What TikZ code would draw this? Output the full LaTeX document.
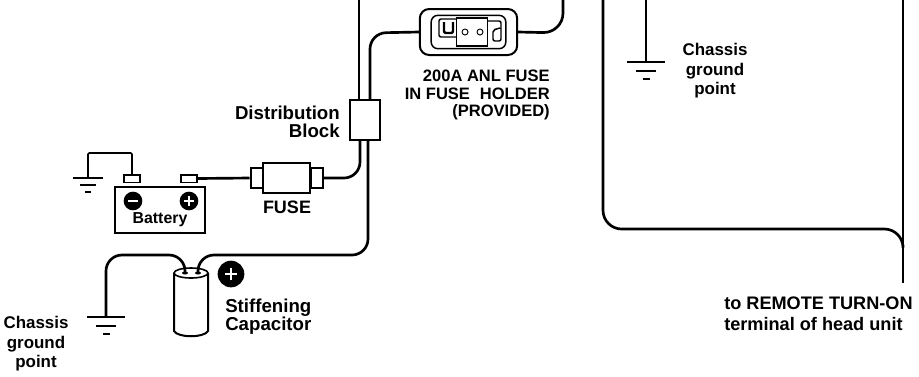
\documentclass[tikz,border=0pt]{standalone}
\usepackage{fontspec}
\usepackage{tikz}
\setmainfont{Liberation Sans}
\tikzset{
	wire/.style={line width=2pt},
	thinwire/.style={line width=1.2pt},
	part/.style={draw,line width=1.5pt,inner sep=0pt},
	pole/.style={circle,fill=black,inner sep=0pt,minimum size=14pt},
	lbl/.style 2 args={inner sep=0pt,font=\fontsize{#1}{#2}\selectfont\bfseries},
	pics/earth/.style={code={
		\draw [line width=1.5pt] (-19,0) -- (19,0);
		\draw [line width=1.5pt] (-10,9) -- (10,9);
		\draw [line width=1.5pt] (-3.5,17) -- (3.5,17);
	}}
}
\begin{document}
\begin{tikzpicture}[x=0.75pt,y=-0.75pt]
	\useasboundingbox (0,0) rectangle (919,376);
	% nodes for the parts
	\node (block) [part,minimum width=22.5pt,minimum height=30.5pt] at (365,120) {};
	\node (holder) [part,rounded corners=7pt,minimum width=73pt,minimum height=34.5pt] at (468.5,32) {};
	\node (frame) [part,line width=1.1pt,rounded corners=5pt,minimum width=56pt,minimum height=25pt] at (468.5,32) {};
	\node (blade) [part,line width=1.1pt,fill=white,minimum width=23pt,minimum height=21pt] at (472,32) {};
	\node (battery) [part,minimum width=67.5pt,minimum height=35pt] at (160,210) {};
	\node (neg) [part,line width=1pt,minimum width=12pt,minimum height=5.5pt] at (132,178.5) {};
	\node (pos) [part,line width=1pt,minimum width=12pt,minimum height=5.5pt] at (189,178.5) {};
	\node (capleft) [part,minimum width=9pt,minimum height=15pt] at (256.5,178) {};
	\node (capright) [part,minimum width=9pt,minimum height=15pt] at (316.5,178) {};
	\node (fuse) [part,fill=white,minimum width=35pt,minimum height=23pt] at (286.5,178) {};
	\node (minus) [pole] at (133,201) {};
	\node (plus) [pole] at (189,201) {};
	\node (capplus) [pole,minimum size=20pt] at (231,274) {};

	% labels
	\node (t1) [lbl={12.4}{12.8},align=right,anchor=east] at (550,95) {200A ANL FUSE\\IN FUSE\hspace{4pt} HOLDER\\(PROVIDED)};
	\node (t2) [lbl={14}{13.5},align=right,anchor=east] at (340,122) {Distribution\\Block};
	\node (t3) [lbl={11.9}{14}] at (160,220) {Battery};
	\node (t4) [lbl={13.5}{14}] at (287,207) {FUSE};
	\node (t5) [lbl={14}{13.5},align=left,anchor=west] at (225,317) {Stiffening\\Capacitor};
	\node (t6) [lbl={12.7}{14.6},align=center] at (36,344) {Chassis\\ground\\point};
	\node (t7) [lbl={12.7}{14.6},align=center] at (715,71) {Chassis\\ground\\point};
	\node (t8) [lbl={13.6}{15.5},align=left,anchor=west] at (724,314) {to REMOTE TURN-ON\\terminal of head unit};

	% free ends of the wires
	\coordinate (feed) at (359,0);
	\coordinate (blocka) at (359,100);
	\coordinate (blockb) at (370,100);
	\coordinate (blockc) at (360,140);
	\coordinate (blockd) at (368,140);
	\coordinate (amp) at (563,0);
	\coordinate (remotea) at (603,0);
	\coordinate (remoteb) at (903,0);
	\coordinate (remotec) at (903,283);
	\coordinate (remoted) at (903,245);
	\coordinate (gnda) at (646,0);
	\coordinate (gndb) at (646,62);
	\coordinate (gndc) at (88,178);
	\coordinate (gndd) at (106,317);
	\coordinate (capa) at (185,273);
	\coordinate (capb) at (198,273);

	% the grounds
	\pic at (646,62) {earth};
	\pic [scale=.8] at (88,178) {earth};
	\pic at (106,317) {earth};

	% the wires
	\draw [wire] (feed) -- (blocka);
	\draw [wire,rounded corners=12pt] (blockb) -- (370,33) -- (holder.west);
	\draw [wire,rounded corners=15pt] (holder.east) -- (563,33) -- (amp);
	\draw [wire,rounded corners=12pt] (blockc) -- (360,178) -- (capright.east);
	\draw [wire,rounded corners=12pt] (blockd) -- (368,255) -- (198,255) -- (capb);
	\draw [wire,rounded corners=12pt] (capa) -- (185,255) -- (106,255) -- (gndd);
	\draw [wire] (pos.east) -- (capleft.west);
	\draw [thinwire,rounded corners=1pt] (neg.north) -- (132,153) -- (88,153) -- (gndc);
	\draw [wire] (gnda) -- (gndb);
	\draw [wire,rounded corners=14pt] (remotea) -- (603,229) -- (903,229) -- (remoted);
	\draw [wire] (remoteb) -- (remotec);

	% the capacitor
	\draw [part] (174,273) -- (174,331) .. controls (178,338) and (204,338) .. (208,331) -- (208,273);
	\draw [line width=1.2pt] (191,273) ellipse [x radius=17,y radius=5];
	\fill (capa) ellipse [x radius=3,y radius=1.5];
	\fill (capb) ellipse [x radius=3,y radius=1.5];

	% the fuse blades
	\draw [line width=1.1pt,rounded corners=1.5pt] (blade.west |- 0,37) -- (439,37) -- (439,19) -- (blade.west |- 0,19);
	\draw [line width=1.8pt,rounded corners=1.5pt] (444,22) -- (444,33) -- (453,33) -- (453,22);
	\draw [line width=1.1pt,rounded corners=1.5pt] (blade.east |- 0,21) -- (501,21) -- (501,41) -- (493,41) -- (493,30) -- (500,28);
	\draw [line width=.7pt] (465,32) circle (3);
	\draw [line width=.7pt] (480,32) circle (3);

	% signs on the poles
	\draw [white,line width=1.8pt] (minus.center) ++(-5,0) -- ++(10,0);
	\foreach \sgn/\len in {plus/5,capplus/6} {
		\draw [white,line width=2.2pt] (\sgn.center) ++(-\len,0) -- ++(2*\len,0);
		\draw [white,line width=2.2pt] (\sgn.center) ++(0,-\len) -- ++(0,2*\len);
	}
\end{tikzpicture}
\end{document}
